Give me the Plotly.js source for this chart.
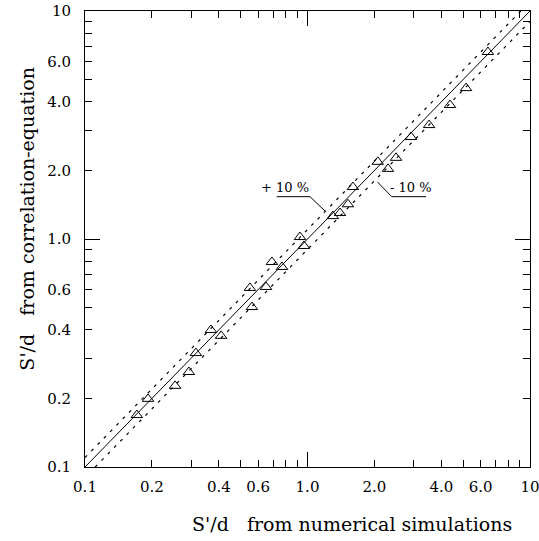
<!DOCTYPE html>
<html>
<head>
<meta charset="utf-8">
<script src="https://cdn.plot.ly/plotly-3.0.1.min.js"></script>
<style>html,body{margin:0;padding:0;background:#fff;}#chart{width:539px;height:541px;}</style>
</head>
<body>
<div id="chart"></div>
<script>
// S'/d from numerical simulations (x) vs. from correlation-equation (y)
const simValues  = [0.171, 0.192, 0.254, 0.293, 0.315, 0.368, 0.409, 0.551, 0.563, 0.651, 0.692, 0.768, 0.925, 0.964,
                    1.30, 1.40, 1.52, 1.60, 2.07, 2.30, 2.50, 2.92, 3.52, 4.37, 5.16, 6.47];
const corrValues = [0.169, 0.199, 0.227, 0.261, 0.316, 0.399, 0.376, 0.610, 0.503, 0.616, 0.793, 0.754, 1.02, 0.932,
                    1.26, 1.30, 1.42, 1.69, 2.18, 2.03, 2.27, 2.80, 3.16, 3.87, 4.59, 6.61];
const axisRange  = [0.1, 10];
const upperFactor = 1.1;   // +10 %
const lowerFactor = 0.9;   // -10 %
const tickVals  = [0.1,0.2,0.3,0.4,0.5,0.6,0.7,0.8,0.9,1,2,3,4,5,6,7,8,9,10];
const tickText  = ['0.1','0.2','','0.4','','0.6','','','','1.0','2.0','','4.0','','6.0','','','','10'];
const majorTick = [1];

const lo = axisRange[0], hi = axisRange[1];
const font = 'DejaVu Serif';

const traces = [
  { x: [lo, hi], y: [lo, hi], mode: 'lines', line: {color: '#000', width: 1}, xaxis: 'x2', yaxis: 'y2', hoverinfo: 'skip' },
  { x: [lo, hi / upperFactor], y: [lo * upperFactor, hi], mode: 'lines', line: {color: '#000', width: 1.2, dash: '3px,6px'} },
  { x: [lo / lowerFactor, hi], y: [lo, hi * lowerFactor], mode: 'lines', line: {color: '#000', width: 1.2, dash: '3px,6px'} },
  { x: simValues, y: corrValues, mode: 'markers',
    marker: {symbol: 'triangle-up-open', size: 10, color: '#000', line: {color: '#000', width: 1}} }
];

const logRange = [Math.log10(lo), Math.log10(hi)];
const baseAxis = {
  type: 'log', range: logRange, tickmode: 'array', tickvals: tickVals, ticktext: tickText,
  ticks: 'inside', ticklen: 7, tickwidth: 1, tickcolor: '#000',
  showline: true, linecolor: '#000', linewidth: 1, mirror: 'allticks',
  showgrid: false, zeroline: false, ticklabelstandoff: 6, ticklabeloverflow: 'allow',
  tickfont: {family: font, size: 15, color: '#000'}
};
const majorAxis = {
  type: 'log', range: logRange, tickmode: 'array', tickvals: majorTick, ticktext: [''],
  ticks: 'inside', ticklen: 15, tickwidth: 1, tickcolor: '#000',
  showline: false, mirror: 'allticks', showgrid: false, zeroline: false, showticklabels: false
};

const layout = {
  width: 539, height: 541,
  margin: {l: 85, r: 9, t: 11, b: 74},
  paper_bgcolor: '#fff', plot_bgcolor: '#fff',
  showlegend: false,
  font: {family: font, color: '#000'},
  xaxis: Object.assign({}, baseAxis),
  yaxis: Object.assign({}, baseAxis, {ticklabelstandoff: 10}),
  xaxis2: Object.assign({}, majorAxis, {overlaying: 'x', anchor: 'y2'}),
  yaxis2: Object.assign({}, majorAxis, {overlaying: 'y', anchor: 'x2'}),
  annotations: [
    {xref: 'paper', yref: 'paper', x: 0.4494, y: 0.614, text: '+ 10 %', showarrow: false,
     font: {family: font, size: 13, color: '#000'}},
    {xref: 'paper', yref: 'paper', x: 0.785, y: 0.614, text: '- 10 %', showarrow: false,
     font: {family: font, size: 13, color: '#000'}},
    {xref: 'paper', yref: 'paper', x: 0.60, y: -0.125, yanchor: 'middle', text: "S'/d\u00a0\u00a0\u00a0from numerical simulations",
     showarrow: false, font: {family: font, size: 19, color: '#000'}},
    {xref: 'paper', yref: 'paper', x: -0.13, y: 0.545, xanchor: 'center', text: "S'/d\u00a0\u00a0\u00a0from correlation-equation",
     textangle: -90, showarrow: false, font: {family: font, size: 19, color: '#000'}}
  ],
  shapes: [
    {type: 'path', xref: 'paper', yref: 'paper', path: 'M0.4308,0.5928 L0.5056,0.5928 L0.5393,0.5614', line: {color: '#000', width: 1}},
    {type: 'path', xref: 'paper', yref: 'paper', path: 'M0.7663,0.5928 L0.6892,0.5928 L0.6573,0.625', line: {color: '#000', width: 1}}
  ]
};

Plotly.newPlot('chart', traces, layout, {staticPlot: true, displayModeBar: false});
</script>
</body>
</html>
